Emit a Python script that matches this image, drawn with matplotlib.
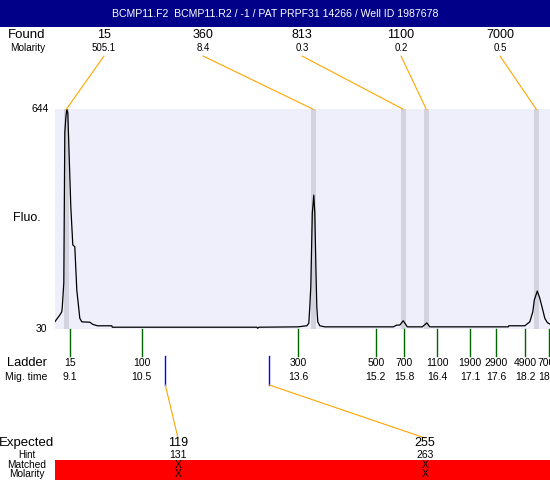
import matplotlib
matplotlib.use("Agg")
import matplotlib.pyplot as plt
from matplotlib.patches import ConnectionPatch, Rectangle
from matplotlib.transforms import blended_transform_factory

plt.rcParams["font.family"] = ["Liberation Sans", "DejaVu Sans"]

title = "BCMP11.F2  BCMP11.R2 / -1 / PAT PRPF31 14266 / Well ID 1987678"

# electropherogram trace (migration time, fluorescence)
trace_time = [8.79, 8.89, 8.93, 8.94, 8.97, 8.99, 9.01, 9.03, 9.05, 9.08,
              9.11, 9.15, 9.19, 9.23, 9.29, 9.33, 9.49, 9.55, 9.64, 9.93,
              9.94, 12.83, 12.85, 12.87, 13.65, 13.83, 13.87, 13.89, 13.91, 13.94,
              13.97, 13.99, 14.01, 14.03, 14.05, 14.09, 14.19, 15.56, 15.63, 15.69,
              15.76, 15.84, 16.14, 16.23, 16.29, 17.86, 17.87, 18.19, 18.29, 18.35,
              18.38, 18.44, 18.49, 18.55, 18.59, 18.64, 18.69]
trace_fluo = [50, 69, 78, 92, 159, 578, 620, 644, 634, 502,
              372, 265, 260, 139, 60, 50, 49, 43, 39, 39,
              35, 35, 32, 35, 36, 39, 46, 92, 148, 354,
              404, 354, 214, 92, 50, 39, 36, 36, 41, 41,
              53, 36, 36, 47, 36, 36, 39, 39, 50, 78,
              111, 136, 116, 83, 60, 48, 44]

found_size = ["15", "360", "813", "1100", "7000"]
found_molarity = ["505.1", "8.4", "0.3", "0.2", "0.5"]
found_time = [9.02, 13.96, 15.76, 16.22, 18.42]

ladder_size = ["15", "100", "300", "500", "700", "1100", "1900", "2900", "4900", "7000"]
ladder_time = [9.10, 10.53, 13.66, 15.21, 15.78, 16.44, 17.10, 17.62, 18.20, 18.67]
ladder_label = ["9.1", "10.5", "13.6", "15.2", "15.8", "16.4", "17.1", "17.6", "18.2", "18.7"]

expected_size = ["119", "255"]
expected_hint = ["131", "263"]
expected_time = [11.00, 13.08]

y_min, y_max = 30, 644

W, H = 550, 480


def fx(x):
    return x / W


def fy(y):
    return 1 - y / H


fig = plt.figure(figsize=(5.5, 4.8), dpi=100)
ax = fig.add_axes([fx(55), fy(329), fx(495), 219.7 / H])
ax.set_facecolor("#efeffb")
for s in ax.spines.values():
    s.set_visible(False)
ax.set_xticks([])
ax.set_yticks([])
ax.set_xlim(8.794, 18.694)
ax.set_ylim(y_min, y_max)

for t in found_time:
    ax.axvspan(t - 0.055, t + 0.055, color="#d3d3df", lw=0)
ax.plot(trace_time, trace_fluo, color="black", lw=0.9)

x_data = blended_transform_factory(ax.transData, fig.transFigure)
y_data = blended_transform_factory(fig.transFigure, ax.transData)

# title bar
fig.add_artist(Rectangle((0, fy(27)), 1, 27 / H, transform=fig.transFigure,
                         color="#000088", lw=0))
fig.text(fx(275), fy(14), title, color="white", fontsize=7.6,
         ha="center", va="center")

# y labels
fig.text(fx(49), y_max, str(y_max), transform=y_data, fontsize=7.5,
         ha="right", va="center")
fig.text(fx(47), y_min, str(y_min), transform=y_data, fontsize=7.5,
         ha="right", va="center")
fig.text(fx(27), fy(218), "Fluo.", fontsize=9, ha="center", va="center")

# found peaks
fig.text(fx(27), fy(35), "Found", fontsize=9.5, ha="center", va="center")
fig.text(fx(27.5), fy(48), "Molarity", fontsize=7.2, ha="center", va="center")
label_x = [104, 203, 302, 401, 500]
for lx, size, mol, t in zip(label_x, found_size, found_molarity, found_time):
    fig.text(fx(lx), fy(35), size, fontsize=9, ha="center", va="center")
    fig.text(fx(lx), fy(48), mol, fontsize=7, ha="center", va="center")
    con = ConnectionPatch(xyA=(fx(lx), fy(56)), coordsA="figure fraction",
                          xyB=(t, y_max), coordsB="data", axesB=ax,
                          color="orange", lw=0.8)
    fig.add_artist(con)

# ladder
fig.text(fx(27), fy(363), "Ladder", fontsize=9.3, ha="center", va="center")
fig.text(fx(26), fy(377), "Mig. time", fontsize=7.5, ha="center", va="center")
for size, t, lab in zip(ladder_size, ladder_time, ladder_label):
    ax.plot([t, t], [fy(329), fy(356)], transform=x_data, color="#006400",
            lw=1, clip_on=False)
    fig.text(t, fy(363), size, transform=x_data, fontsize=7.5,
             ha="center", va="center")
    fig.text(t, fy(377), lab, transform=x_data, fontsize=7.5,
             ha="center", va="center")

# expected
fig.add_artist(Rectangle((fx(55), 0), fx(495), 20 / H, transform=fig.transFigure,
                         color="#ff0000", lw=0))
fig.text(fx(27), fy(443), "Expected", fontsize=9.5, ha="center", va="center")
fig.text(fx(27), fy(455), "Hint", fontsize=7, ha="center", va="center")
fig.text(fx(27), fy(465), "Matched", fontsize=7.3, ha="center", va="center")
fig.text(fx(27), fy(474), "Molarity", fontsize=7.3, ha="center", va="center")
exp_x = [178, 425]
for ex, size, hint, t in zip(exp_x, expected_size, expected_hint, expected_time):
    ax.plot([t, t], [fy(356), fy(385)], transform=x_data, color="#0000ff",
            lw=1, clip_on=False)
    con = ConnectionPatch(xyA=(t, fy(385)), coordsA=x_data,
                          xyB=(fx(ex), fy(438)), coordsB="figure fraction",
                          color="orange", lw=0.8)
    fig.add_artist(con)
    fig.text(fx(ex), fy(443), size, fontsize=9, ha="center", va="center")
    fig.text(fx(ex), fy(455), hint, fontsize=7.5, ha="center", va="center")
    fig.text(fx(ex), fy(465), "X", fontsize=7.5, ha="center", va="center")
    fig.text(fx(ex), fy(474), "X", fontsize=7.5, ha="center", va="center")

fig.savefig("out.png", dpi=100)
